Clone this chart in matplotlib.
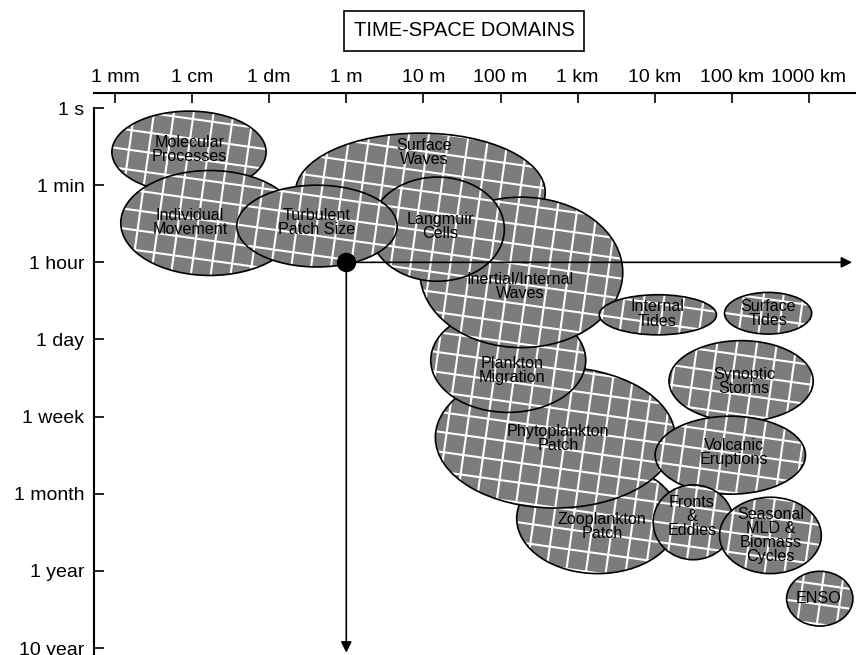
import numpy as np
import matplotlib
matplotlib.use('Agg')
import matplotlib.pyplot as plt
from matplotlib.patches import Ellipse
from matplotlib.collections import LineCollection

plt.rcParams['font.family'] = ['Liberation Sans', 'DejaVu Sans']

# axis categories (evenly spaced, one unit per step)
size_labels = ['1 mm', '1 cm', '1 dm', '1 m', '10 m', '100 m', '1 km', '10 km', '100 km', '1000 km']
time_labels = ['1 s', '1 min', '1 hour', '1 day', '1 week', '1 month', '1 year', '10 year']

# domains, drawn in this order (later ones on top)
names = ['Molecular\nProcesses', 'Individual\nMovement', 'Surface\nWaves', 'Zooplankton\nPatch',
         'Phytoplankton\nPatch', 'Plankton\nMigration', 'Inertial/Internal\nWaves', 'Langmuir\nCells',
         'Turbulent\nPatch Size', 'Internal\nTides', 'Surface\nTides', 'Synoptic\nStorms',
         'Volcanic\nEruptions', 'Fronts\n&\nEddies', 'Seasonal\nMLD &\nBiomass\nCycles', 'ENSO']
cx = [0.96, 1.23, 3.96, 6.26, 5.71, 5.10, 5.27, 4.18, 2.62, 7.04, 8.47, 8.12, 7.98, 7.50, 8.50, 9.14]
cy = [0.57, 1.49, 1.09, 5.32, 4.27, 3.27, 2.13, 1.57, 1.53, 2.68, 2.66, 3.54, 4.50, 5.37, 5.54, 6.36]
wd = [2.00, 2.31, 3.24, 2.10, 3.11, 2.01, 2.63, 1.74, 2.08, 1.52, 1.13, 1.87, 1.95, 1.04, 1.32, 0.86]
ht = [1.06, 1.36, 1.53, 1.43, 1.83, 1.35, 1.95, 1.35, 1.06, 0.52, 0.54, 1.05, 1.01, 0.97, 0.99, 0.71]
lx = [0.97, 0.97, 4.01, 6.32, 5.75, 5.15, 5.25, 4.22, 2.62, 7.03, 8.47, 8.16, 8.03, 7.48, 8.50, 9.13]
ly = [0.54, 1.48, 0.58, 5.42, 4.28, 3.40, 2.31, 1.53, 1.48, 2.67, 2.66, 3.55, 4.47, 5.30, 5.54, 6.36]

# reference point: 1 m, 1 hour
ref_x, ref_y = 3, 2


def net_lines(x0, y0, r, step=0.255, angle=8):
    # white net pattern, slightly tilted, aligned to one global grid
    t = np.deg2rad(angle)
    e1 = np.array([np.cos(t), np.sin(t)])
    e2 = np.array([-np.sin(t), np.cos(t)])
    c = np.array([x0, y0])
    u0, v0 = c @ e1, c @ e2
    segs = []
    for k in range(int(np.floor((u0 - r) / step)), int(np.ceil((u0 + r) / step)) + 1):
        segs.append([k * step * e1 + (v0 - r) * e2, k * step * e1 + (v0 + r) * e2])
    for k in range(int(np.floor((v0 - r) / step)), int(np.ceil((v0 + r) / step)) + 1):
        segs.append([(u0 - r) * e1 + k * step * e2, (u0 + r) * e1 + k * step * e2])
    return segs


fig = plt.figure(figsize=(8.56, 6.55), dpi=100)
ax = fig.add_axes([94 / 856, 0, 1 - 94 / 856, 1 - 93 / 655])
ax.set_xlim(-0.272, 9.61)
ax.set_ylim(7.09, -0.195)

for i, name in enumerate(names):
    z = 2 + i
    body = Ellipse((cx[i], cy[i]), wd[i], ht[i], facecolor='#7c7c7c', edgecolor='none', zorder=z)
    ax.add_patch(body)
    net = LineCollection(net_lines(cx[i], cy[i], max(wd[i], ht[i]) / 2 + 0.3),
                         colors='white', linewidths=1.5, zorder=z)
    ax.add_collection(net)
    net.set_clip_path(body)
    ax.add_patch(Ellipse((cx[i], cy[i]), wd[i], ht[i], fill=False, edgecolor='black', lw=1.2, zorder=z))
    ax.text(lx[i], ly[i], name, ha='center', va='center', fontsize=11.6, linespacing=0.92, zorder=50)

ax.annotate('', xy=(9.56, ref_y), xytext=(ref_x, ref_y),
            arrowprops=dict(arrowstyle='-|>', color='black', lw=1.2, mutation_scale=16, shrinkA=0, shrinkB=0),
            zorder=60)
ax.annotate('', xy=(ref_x, 7.06), xytext=(ref_x, ref_y),
            arrowprops=dict(arrowstyle='-|>', color='black', lw=1.2, mutation_scale=16, shrinkA=0, shrinkB=0),
            zorder=60)
ax.plot(ref_x, ref_y, 'o', ms=13, color='black', zorder=61)

ax.xaxis.tick_top()
ax.set_xticks(range(len(size_labels)))
ax.set_xticklabels(size_labels, fontsize=14)
ax.set_yticks(range(len(time_labels)))
ax.set_yticklabels(time_labels, fontsize=14)
ax.tick_params(axis='x', direction='in', length=7, width=1.2, pad=5)
ax.tick_params(axis='y', direction='in', length=7, width=1.2, pad=7)

ax.spines['right'].set_visible(False)
ax.spines['bottom'].set_visible(False)
ax.spines['top'].set_bounds(-0.272, 9.61)
ax.spines['left'].set_bounds(0, 7.09)
ax.spines['top'].set_linewidth(1.5)
ax.spines['left'].set_linewidth(1.5)

fig.text(464 / 856, 1 - 31 / 655, 'TIME-SPACE DOMAINS', ha='center', va='center', fontsize=14.5,
         bbox=dict(boxstyle='square,pad=0.5', facecolor='white', edgecolor='black', lw=1.2))

fig.savefig('out.png', dpi=100)
